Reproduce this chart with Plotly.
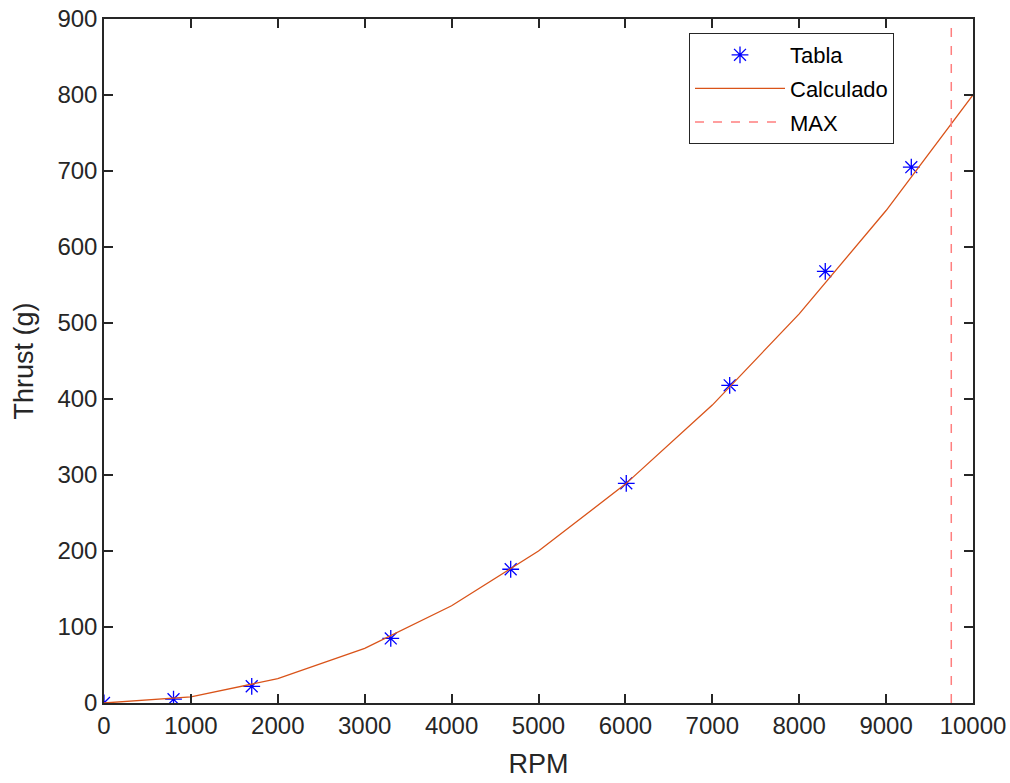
import plotly.graph_objects as go

tabla_rpm = [0, 800, 1700, 3300, 4680, 6010, 7200, 8300, 9290]
tabla_thrust = [0, 5, 22, 85, 176, 289, 418, 568, 705]

calc_rpm = [0, 1000, 2000, 3000, 4000, 5000, 6000, 7000, 8000, 9000, 10000]
calc_thrust = [0, 8, 32, 72, 128, 200, 288, 392, 512, 648, 800]

max_rpm = 9750
y_range = [0, 900]

x_ticks = list(range(0, 10001, 1000))
x_ticklabels = [str(v) for v in x_ticks]
y_ticks = list(range(0, 901, 100))
y_ticklabels = [str(v) for v in y_ticks]

FONT = "Liberation Sans, Arial, sans-serif"

fig = go.Figure()
fig.add_trace(go.Scatter(
    x=tabla_rpm, y=tabla_thrust, mode="markers", name="Tabla",
    legendgroup="a",
    marker=dict(symbol="asterisk-open", size=14, color="#0000FF",
                line=dict(color="#0000FF", width=1.3)),
))
fig.add_trace(go.Scatter(
    x=calc_rpm, y=calc_thrust, mode="lines", name="Calculado",
    legendgroup="b",
    line=dict(color="#D95319", width=1.3),
))
fig.add_trace(go.Scatter(
    x=[max_rpm, max_rpm], y=y_range, mode="lines", name="MAX",
    legendgroup="c",
    line=dict(color="#FF7F7F", width=1.5, dash="dash"),
))

axis_common = dict(
    showgrid=False, zeroline=False, showline=True, linecolor="#262626",
    linewidth=1.5, mirror="ticks", ticks="inside", ticklen=9, tickwidth=1.5,
    tickcolor="#262626", automargin=False,
    tickfont=dict(family=FONT, size=24, color="#262626"),
)

fig.update_layout(
    width=1010, height=783,
    margin=dict(l=104, r=37, t=19, b=80),
    plot_bgcolor="white", paper_bgcolor="white",
    showlegend=True,
    xaxis=dict(range=[0, 10000], tickvals=x_ticks, ticktext=x_ticklabels,
               title=dict(text="RPM", font=dict(family=FONT, size=27, color="#262626"), standoff=17),
               **axis_common),
    yaxis=dict(range=y_range, tickvals=y_ticks, ticktext=y_ticklabels,
               title=dict(text="Thrust (g)", font=dict(family=FONT, size=27, color="#262626"), standoff=16),
               **axis_common),
    legend=dict(
        x=(689 - 104) / 869, y=(703 - 33) / 684, xanchor="left", yanchor="top",
        bgcolor="white", bordercolor="#262626", borderwidth=1,
        font=dict(family=FONT, size=22, color="#000000"),
        tracegroupgap=2, traceorder="grouped", itemwidth=90,
    ),
)

fig.write_html("out.html")
